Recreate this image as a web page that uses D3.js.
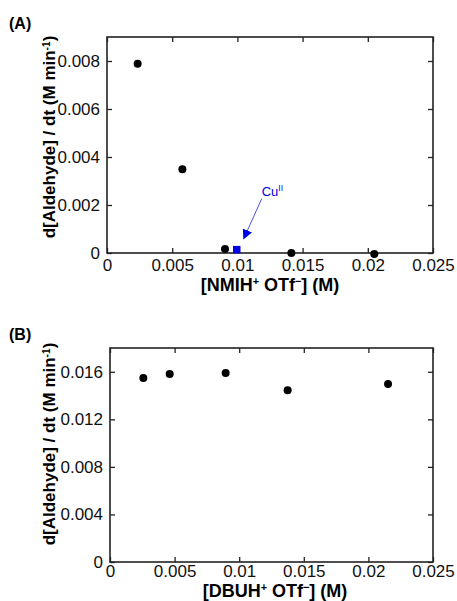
<!DOCTYPE html>
<html>
<head>
<meta charset="utf-8">
<script src="https://cdnjs.cloudflare.com/ajax/libs/d3/7.8.5/d3.min.js"></script>
<style>
  body { margin: 0; background: #fff; }
  svg { display: block; font-family: "Liberation Sans", Arial, Helvetica, sans-serif; }
</style>
</head>
<body>
<div id="vizDiv"></div>
<script>
var width = 457
var height = 601

// panel A data (NMIH+ OTf-)
var xTicks = [0, 0.005, 0.01, 0.015, 0.02, 0.025]
var nmihConc = [0.00235, 0.00578, 0.00905, 0.01414, 0.0205]
var nmihRate = [0.00789, 0.00349, 0.00017, 0.0, -0.00004]
var cuConc = [0.00995]
var cuRate = [0.00014]
var yTicksA = [0, 0.002, 0.004, 0.006, 0.008]

// panel B data (DBUH+ OTf-)
var dbuhConc = [0.00258, 0.00462, 0.00895, 0.01375, 0.02152]
var dbuhRate = [0.01548, 0.01581, 0.0159, 0.01444, 0.01497]
var yTicksB = [0, 0.004, 0.008, 0.012, 0.016]

var svg = d3.select("#vizDiv")
  .append("svg")
  .attr("width", width)
  .attr("height", height)

var fmt = function (d) { return d === 0 ? "0" : String(d) }

// draws one framed panel, returns its scales
function drawPanel (p) {
  var x = d3.scaleLinear().domain([0, 0.025]).range([p.left, p.right])
  var y = d3.scaleLinear().domain([0, p.yMax]).range([p.bottom, p.top])

  var g = svg.append("g")

  // inward ticks on all four sides
  g.append("g")
    .attr("transform", "translate(0," + p.bottom + ")")
    .call(d3.axisBottom(x).tickValues(xTicks).tickSize(-5).tickPadding(p.xPad).tickFormat(fmt))
  g.append("g")
    .attr("transform", "translate(0," + p.top + ")")
    .call(d3.axisTop(x).tickValues(xTicks).tickSize(-5).tickFormat(""))
  g.append("g")
    .attr("transform", "translate(" + p.left + ",0)")
    .call(d3.axisLeft(y).tickValues(p.yTicks).tickSize(-5).tickPadding(7).tickFormat(fmt))
  g.append("g")
    .attr("transform", "translate(" + p.right + ",0)")
    .call(d3.axisRight(y).tickValues(p.yTicks).tickSize(-5).tickFormat(""))

  g.selectAll(".domain").remove()
  g.selectAll(".tick line").attr("stroke", "#222").attr("stroke-width", 1.3)
  g.selectAll(".tick text")
    .attr("fill", "#111")
    .style("font-size", "17px")
    .style("font-family", "Liberation Sans, Arial, sans-serif")

  g.append("rect")
    .attr("x", p.left)
    .attr("y", p.top)
    .attr("width", p.right - p.left)
    .attr("height", p.bottom - p.top)
    .attr("fill", "none")
    .attr("stroke", "#222")
    .attr("stroke-width", 1.6)

  // panel letter
  svg.append("text")
    .attr("x", 9)
    .attr("y", p.top - 8)
    .style("font-size", "16px")
    .style("font-weight", "bold")
    .text(p.letter)

  // x title
  var xt = svg.append("text")
    .attr("x", p.xTitleX)
    .attr("y", p.xTitleY)
    .attr("text-anchor", "middle")
    .style("font-size", p.titleSize + "px")
    .style("font-weight", "bold")
  xt.append("tspan").text("[" + p.ion)
  xt.append("tspan").attr("baseline-shift", "super").style("font-size", "0.6em").text("+")
  xt.append("tspan").text(" OTf")
  xt.append("tspan").attr("baseline-shift", "super").style("font-size", "0.6em").text("\u2212")
  xt.append("tspan").text("] (M)")

  // y title
  var yt = svg.append("text")
    .attr("transform", "translate(" + p.yTitleX + "," + p.yTitleMid + ") rotate(-90)")
    .attr("text-anchor", "middle")
    .style("font-size", "17px")
    .style("font-weight", "bold")
  yt.append("tspan").text("d[Aldehyde] / dt (M min")
  yt.append("tspan").attr("baseline-shift", "super").style("font-size", "0.6em").text("-1")
  yt.append("tspan").text(")")

  return { x: x, y: y }
}

var a = drawPanel({
  letter: "(A)", left: 107, right: 433, top: 37, bottom: 253,
  yMax: 0.009, yTicks: yTicksA, ion: "NMIH", xPad: 6,
  xTitleX: 270, xTitleY: 291, titleSize: 18, yTitleX: 55, yTitleMid: 137
})

var b = drawPanel({
  letter: "(B)", left: 110, right: 433, top: 348, bottom: 562,
  yMax: 0.018, yTicks: yTicksB, ion: "DBUH", xPad: 3,
  xTitleX: 275, xTitleY: 597, titleSize: 18, yTitleX: 55, yTitleMid: 444
})

svg.selectAll(".dotA")
  .data(d3.zip(nmihConc, nmihRate))
  .enter().append("circle")
  .attr("cx", function (d) { return a.x(d[0]) })
  .attr("cy", function (d) { return a.y(d[1]) })
  .attr("r", 4)
  .attr("fill", "#000")

// Cu(II) point and callout
svg.selectAll(".cu")
  .data(d3.zip(cuConc, cuRate))
  .enter().append("rect")
  .attr("x", function (d) { return a.x(d[0]) - 3.75 })
  .attr("y", function (d) { return a.y(d[1]) - 3.75 })
  .attr("width", 7.5)
  .attr("height", 7.5)
  .attr("fill", "#0000e6")

svg.append("defs")
  .append("marker")
  .attr("id", "arrow")
  .attr("viewBox", [0, 0, 10, 10])
  .attr("refX", 9)
  .attr("refY", 5)
  .attr("markerWidth", 10)
  .attr("markerHeight", 10)
  .attr("markerUnits", "userSpaceOnUse")
  .attr("orient", "auto")
  .append("path")
  .attr("d", "M0,0 L10,5 L0,10 Z")
  .attr("fill", "#0000e6")

var cx = a.x(cuConc[0]), cy = a.y(cuRate[0])
svg.append("line")
  .attr("x1", cx + 25)
  .attr("y1", cy - 51)
  .attr("x2", cx + 7)
  .attr("y2", cy - 11)
  .attr("stroke", "#3a3af0")
  .attr("stroke-width", 0.9)
  .attr("marker-end", "url(#arrow)")

var cuLabel = svg.append("text")
  .attr("x", cx + 25)
  .attr("y", cy - 54)
  .attr("fill", "#0000e6")
  .style("font-size", "13px")
cuLabel.append("tspan").text("Cu")
cuLabel.append("tspan").attr("baseline-shift", "super").style("font-size", "0.65em").text("II")

svg.selectAll(".dotB")
  .data(d3.zip(dbuhConc, dbuhRate))
  .enter().append("circle")
  .attr("cx", function (d) { return b.x(d[0]) })
  .attr("cy", function (d) { return b.y(d[1]) })
  .attr("r", 4)
  .attr("fill", "#000")
</script>
</body>
</html>
